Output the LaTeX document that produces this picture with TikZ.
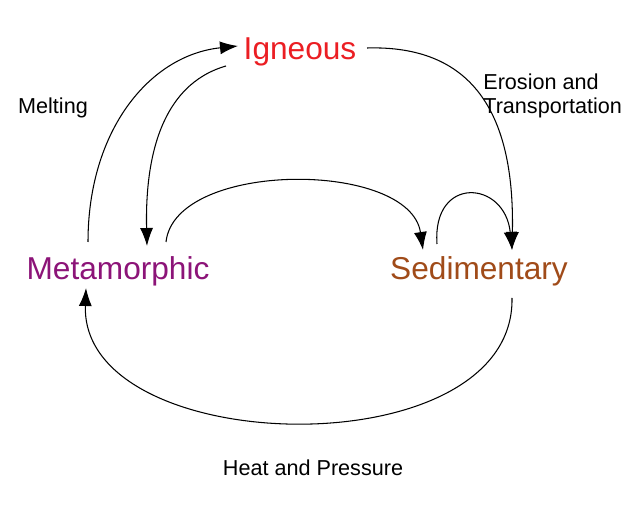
\documentclass[tikz,border=0pt]{standalone}
\usepackage{fontspec}
\setmainfont{Liberation Sans}
\usetikzlibrary{arrows.meta}
\definecolor{ignred}{RGB}{235,30,35}
\definecolor{metpurple}{RGB}{140,20,120}
\definecolor{sedbrown}{RGB}{160,75,25}

\begin{document}
\begin{tikzpicture}[x=0.02cm,y=-0.02cm,
  rock/.style={font=\fontsize{18}{21}\selectfont, inner sep=1pt},
  note/.style={font=\fontsize{12.3}{14}\selectfont, inner sep=0pt},
  cycle/.style={semithick, -{Latex[length=3.6mm,width=2.6mm]}}]
  \useasboundingbox (0,0) rectangle (644,519);

  \node
  [rock, text=ignred]
  (ign) at (300,52) {Igneous};

  \node
  [rock, text=metpurple]
  (met) at (118,271) {Metamorphic};

  \node
  [rock, text=sedbrown]
  (sed) at (479,271) {Sedimentary};

  \node
  [note]
  (melt) at (53,108) {Melting};

  \node
  [note, align=left, anchor=west]
  (eros) at (483,96) {Erosion and\\Transportation};

  \node
  [note]
  (heat) at (313,468) {Heat and Pressure};

  \coordinate (m1) at (88,242);
  \coordinate (m2) at (147,246);
  \coordinate (m3) at (166,242);
  \coordinate (m4) at (86,288);
  \coordinate (i1) at (238,46);
  \coordinate (i2) at (226,66);
  \coordinate (i3) at (367,48);
  \coordinate (s1) at (423,250);
  \coordinate (s2) at (437,244);
  \coordinate (s3) at (512,250);
  \coordinate (s4) at (512,298);

  \draw
  [cycle]
  (m1) .. controls (88,130) and (150,55) .. (i1);

  \draw
  [cycle]
  (i2) .. controls (160,85) and (145,160) .. (m2);

  \draw
  [cycle]
  (m3) .. controls (175,160) and (410,160) .. (s1);

  \draw
  [cycle]
  (i3) .. controls (470,45) and (515,110) .. (s3);

  \draw
  [cycle]
  (s2) .. controls (432,175) and (505,180) .. (s3);

  \draw
  [cycle]
  (s4) .. controls (515,470) and (80,460) .. (m4);
\end{tikzpicture}
\end{document}
